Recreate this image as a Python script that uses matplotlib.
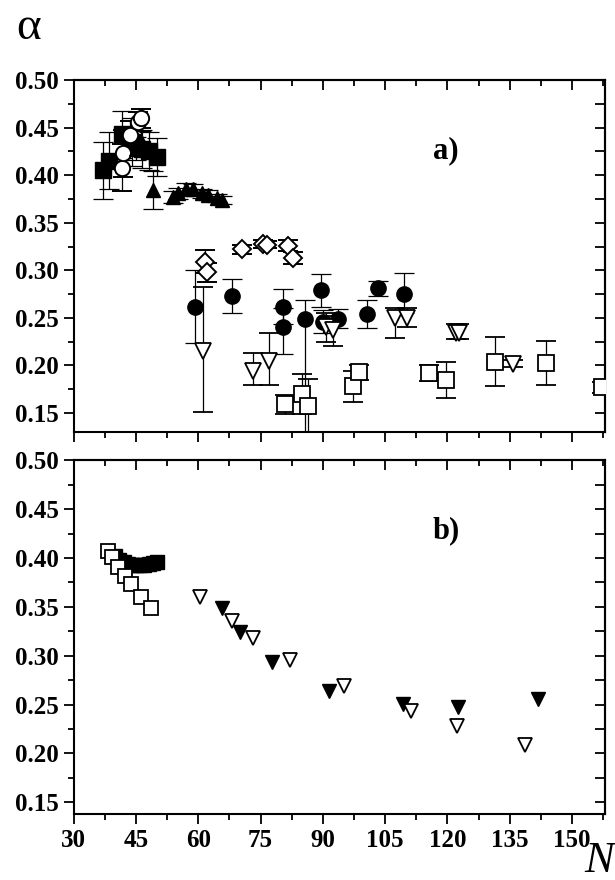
import matplotlib
matplotlib.use("Agg")
import matplotlib.pyplot as plt
from matplotlib.ticker import MultipleLocator

# panel a) -- filled squares
sq_n = [37.0, 38.5, 41.5, 44.0, 46.5, 48.0, 50.0]
sq_a = [0.405, 0.415, 0.443, 0.435, 0.428, 0.425, 0.419]
sq_e = [0.030, 0.030, 0.025, 0.025, 0.020, 0.020, 0.020]

# open circles
ci_n = [41.6, 41.8, 43.5, 45.5, 46.3]
ci_a = [0.408, 0.423, 0.442, 0.456, 0.460]
ci_e = [0.025, 0.025, 0.015, 0.010, 0.010]

# filled up triangles
tu_n = [45.0, 46.2, 49.0, 53.9, 55.0, 57.0, 58.7, 60.8, 62.3, 64.5, 65.7]
tu_a = [0.428, 0.436, 0.384, 0.377, 0.381, 0.386, 0.386, 0.381, 0.379, 0.376, 0.374]
tu_e = [0.012, 0.010, 0.020, 0.006, 0.006, 0.006, 0.005, 0.005, 0.005, 0.004, 0.004]

# open diamonds
di_n = [61.6, 62.1, 70.5, 75.5, 76.5, 81.6, 82.8]
di_a = [0.309, 0.298, 0.322, 0.328, 0.327, 0.326, 0.313]
di_e = [0.012, 0.010, 0.005, 0.004, 0.004, 0.006, 0.006]

# filled circles
fc_n = [59.2, 68.1, 80.4, 80.4, 85.7, 89.5, 90.0, 93.6, 100.6, 103.3, 109.5]
fc_a = [0.262, 0.273, 0.262, 0.240, 0.249, 0.279, 0.246, 0.249, 0.254, 0.281, 0.275]
fc_lo = [0.038, 0.018, 0.018, 0.028, 0.120, 0.017, 0.012, 0.010, 0.015, 0.008, 0.020]
fc_hi = [0.038, 0.018, 0.018, 0.020, 0.020, 0.017, 0.012, 0.010, 0.015, 0.008, 0.022]

# open down triangles
td_n = [61.1, 73.1, 77.0, 90.8, 92.4, 107.4, 110.2, 122.0, 122.7, 135.8]
td_a = [0.215, 0.194, 0.205, 0.240, 0.237, 0.250, 0.250, 0.234, 0.234, 0.202]
td_lo = [0.064, 0.014, 0.025, 0.015, 0.017, 0.021, 0.010, 0.006, 0.006, 0.004]
td_hi = [0.067, 0.019, 0.029, 0.015, 0.015, 0.010, 0.010, 0.010, 0.010, 0.004]

# open squares
os_n = [80.8, 84.9, 86.4, 97.2, 98.7, 115.5, 119.6, 131.4, 143.7, 157.2]
os_a = [0.159, 0.170, 0.157, 0.178, 0.193, 0.192, 0.185, 0.204, 0.203, 0.177]
os_e = [0.010, 0.021, 0.029, 0.016, 0.008, 0.008, 0.019, 0.026, 0.023, 0.006]

# panel b)
b_os_n = [38.2, 39.2, 40.6, 42.3, 43.7, 46.3, 48.5]
b_os_a = [0.407, 0.401, 0.391, 0.382, 0.373, 0.360, 0.349]
b_fs_n = [40.0, 41.0, 42.0, 43.0, 44.0, 45.0, 46.0, 47.0, 48.0, 49.0, 50.0]
b_fs_a = [0.402, 0.398, 0.396, 0.394, 0.393, 0.393, 0.393, 0.393, 0.394, 0.395, 0.396]
b_ot_n = [60.4, 68.1, 73.1, 82.0, 95.0, 111.2, 122.3, 138.7]
b_ot_a = [0.360, 0.335, 0.318, 0.296, 0.269, 0.243, 0.228, 0.209]
b_ft_n = [65.7, 70.0, 77.7, 91.4, 109.3, 122.5, 141.8]
b_ft_a = [0.349, 0.324, 0.294, 0.264, 0.251, 0.248, 0.256]

plt.rcParams['font.family'] = ['Liberation Serif', 'DejaVu Serif']
plt.rcParams['font.weight'] = 'bold'

fig = plt.figure(figsize=(6.15, 8.8), dpi=100)
axa = fig.add_axes([0.120, 0.509, 0.864, 0.400])
axb = fig.add_axes([0.120, 0.075, 0.864, 0.402])

ebk = dict(ecolor='black', elinewidth=0.9, capsize=7, capthick=0.9, linestyle='none', zorder=3)

axa.errorbar(sq_n, sq_a, yerr=sq_e, fmt='s', ms=11, mfc='black', mec='black', **ebk)
axa.errorbar(ci_n, ci_a, yerr=ci_e, fmt='o', ms=11, mfc='white', mec='black', mew=1.4, **ebk)
axa.errorbar(tu_n, tu_a, yerr=tu_e, fmt='^', ms=10, mfc='black', mec='black', **ebk)
axa.errorbar(di_n, di_a, yerr=di_e, fmt='D', ms=9, mfc='white', mec='black', mew=1.4, **ebk)
axa.errorbar(fc_n, fc_a, yerr=[fc_lo, fc_hi], fmt='o', ms=11, mfc='black', mec='black', **ebk)
axa.errorbar(td_n, td_a, yerr=[td_lo, td_hi], fmt='v', ms=12, mfc='white', mec='black', mew=1.3, **ebk)
axa.errorbar(os_n, os_a, yerr=os_e, fmt='s', ms=12, mfc='white', mec='black', mew=1.3, **ebk)

axb.plot(b_os_n, b_os_a, 's', ms=10, mfc='white', mec='black', mew=1.3, zorder=3)
axb.plot(b_fs_n, b_fs_a, 's', ms=10, mfc='black', mec='black', zorder=2)
axb.plot(b_ot_n, b_ot_a, 'v', ms=10, mfc='white', mec='black', mew=1.3, zorder=3)
axb.plot(b_ft_n, b_ft_a, 'v', ms=10, mfc='black', mec='black', zorder=2)

axa.set_ylim(0.13, 0.50)
axb.set_ylim(0.138, 0.50)

for ax in (axa, axb):
    ax.set_xlim(30, 158)
    ax.xaxis.set_major_locator(MultipleLocator(15))
    ax.xaxis.set_minor_locator(MultipleLocator(7.5))
    ax.yaxis.set_major_locator(MultipleLocator(0.05))
    ax.yaxis.set_minor_locator(MultipleLocator(0.025))
    ax.yaxis.set_major_formatter(plt.FormatStrFormatter('%.2f'))
    for s in ax.spines.values():
        s.set_linewidth(1.5)
    ax.tick_params(which='both', left=True, right=False, top=False, bottom=True,
                   direction='out', width=1.3, labelsize=18)
    ax.tick_params(which='major', length=7)
    ax.tick_params(which='minor', length=4)
    # inward ticks on top and right
    sec = ax.secondary_xaxis('top')
    sec.xaxis.set_major_locator(MultipleLocator(15))
    sec.xaxis.set_minor_locator(MultipleLocator(7.5))
    sec.tick_params(which='both', direction='in', width=1.3, labeltop=False)
    sec.tick_params(which='major', length=7)
    sec.tick_params(which='minor', length=4)
    sec.spines['top'].set_linewidth(1.5)
    sec2 = ax.secondary_yaxis('right')
    sec2.yaxis.set_major_locator(MultipleLocator(0.05))
    sec2.yaxis.set_minor_locator(MultipleLocator(0.025))
    sec2.tick_params(which='both', direction='in', width=1.3, labelright=False)
    sec2.tick_params(which='major', length=7)
    sec2.tick_params(which='minor', length=7)
    sec2.spines['right'].set_linewidth(1.5)

axa.tick_params(axis='x', labelbottom=False)

axa.text(0.70, 0.80, "a)", transform=axa.transAxes, fontsize=22, fontweight='bold',
         ha='center', va='center')
axb.text(0.70, 0.80, "b)", transform=axb.transAxes, fontsize=22, fontweight='bold',
         ha='center', va='center')

fig.text(0.046, 0.968, "α", fontsize=34, fontweight='normal', ha='center', va='center')
fig.text(0.975, 0.022, "N", fontsize=32, fontstyle='italic', fontweight='normal',
         ha='center', va='center')

fig.savefig("out.png", dpi=100)
